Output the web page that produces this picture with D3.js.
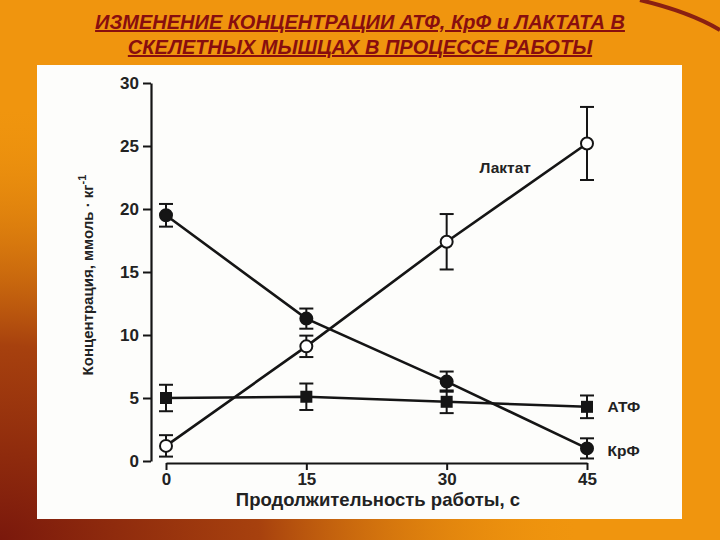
<!DOCTYPE html>
<html>
<head>
<meta charset="utf-8">
<style>
  body { margin: 0; }
  svg { display: block; }
</style>
</head>
<body>

<script src="https://cdn.jsdelivr.net/npm/d3@7"></script>
<script>

const width = 720;
const height = 540;

// time points, s
const times = [0, 15, 30, 45];

// concentrations, mmol/kg
const krf = [19.5, 11.3, 6.3, 1.0];
const krfErr = [0.9, 0.8, 0.8, 0.8];

const lactate = [1.2, 9.1, 17.4, 25.2];
const lactateErr = [0.85, 0.85, 2.2, 2.9];

const atf = [5.0, 5.1, 4.7, 4.3];
const atfErr = [1.05, 1.05, 0.9, 0.9];

const yTicks = [0, 5, 10, 15, 20, 25, 30];
const xTicks = [0, 15, 30, 45];

const titleLines = [
  'ИЗМЕНЕНИЕ КОНЦЕНТРАЦИИ АТФ, КрФ и ЛАКТАТА В',
  'СКЕЛЕТНЫХ МЫШЦАХ В ПРОЦЕССЕ РАБОТЫ'
];

const svg = d3.select('body')
              .append('svg')
              .attr('width', width)
              .attr('height', height);

// slide background
const defs = svg.append('defs');
const bg = defs.append('radialGradient')
               .attr('id', 'bgDark')
               .attr('cx', 0).attr('cy', 1).attr('r', 0.8);
bg.append('stop').attr('offset', '0%').attr('stop-color', '#7a180c').attr('stop-opacity', 1);
bg.append('stop').attr('offset', '45%').attr('stop-color', '#9a320e').attr('stop-opacity', 0.85);
bg.append('stop').attr('offset', '100%').attr('stop-color', '#e88c0c').attr('stop-opacity', 0);

svg.append('rect')
   .attr('width', width).attr('height', height)
   .attr('fill', '#f0950e');
svg.append('rect')
   .attr('width', width).attr('height', height)
   .attr('fill', 'url(#bgDark)');

// arc in the top right corner
svg.append('path')
   .attr('d', 'M640,0 Q690,12 720,30')
   .attr('fill', 'none')
   .attr('stroke', '#8a2012')
   .attr('stroke-width', 4);

// title
svg.selectAll('text.title')
   .data(titleLines)
   .enter()
   .append('text')
   .attr('class', 'title')
   .attr('x', 360)
   .attr('y', (d, i) => 29 + i * 25)
   .attr('text-anchor', 'middle')
   .attr('font-family', 'Liberation Sans, Arial, sans-serif')
   .attr('font-size', 20)
   .attr('font-weight', 'bold')
   .attr('font-style', 'italic')
   .attr('text-decoration', 'underline')
   .attr('fill', '#880e0e')
   .text(d => d);

// white panel
svg.append('rect')
   .attr('x', 37).attr('y', 65)
   .attr('width', 645).attr('height', 454)
   .attr('fill', '#fdfdfb');

const x = d3.scaleLinear().domain([0, 45]).range([166, 587]);
const y = d3.scaleLinear().domain([0, 30]).range([461, 83]);

const ink = '#151515';
const font = 'Liberation Sans, Arial, sans-serif';

// y axis
const yAxis = svg.append('g')
                 .attr('transform', 'translate(151,0)')
                 .call(d3.axisLeft(y).tickValues(yTicks).tickSize(8).tickSizeOuter(0));

// x axis
const xAxis = svg.append('g')
                 .attr('transform', 'translate(0,463)')
                 .call(d3.axisBottom(x).tickValues(xTicks).tickSize(7).tickSizeOuter(0));

[yAxis, xAxis].forEach(g => {
  g.select('.domain').attr('stroke', ink).attr('stroke-width', 2.2);
  g.selectAll('.tick line').attr('stroke', ink).attr('stroke-width', 2);
  g.selectAll('.tick text')
   .attr('fill', '#222')
   .attr('font-family', font)
   .attr('font-size', 17)
   .attr('font-weight', 'bold');
});
yAxis.selectAll('.tick text').attr('x', -12);
xAxis.selectAll('.tick text').attr('y', 10);

// axis titles
svg.append('text')
   .attr('x', 378).attr('y', 506)
   .attr('text-anchor', 'middle')
   .attr('font-family', font)
   .attr('font-size', 18.5)
   .attr('font-weight', 'bold')
   .attr('fill', '#222')
   .text('Продолжительность работы, с');

const yLab = svg.append('text')
   .attr('transform', 'translate(93,275) rotate(-90)')
   .attr('text-anchor', 'middle')
   .attr('font-family', font)
   .attr('font-size', 15)
   .attr('font-weight', 'bold')
   .attr('fill', '#222');
yLab.append('tspan').text('Концентрация, ммоль · кг');
yLab.append('tspan').attr('dy', -7).attr('font-size', 11).text('-1');

// series
const series = [
  { name: 'КрФ', values: krf, err: krfErr, shape: 'dot' },
  { name: 'Лактат', values: lactate, err: lactateErr, shape: 'ring' },
  { name: 'АТФ', values: atf, err: atfErr, shape: 'square' }
];

const line = d3.line()
               .x(d => x(d.t))
               .y(d => y(d.v));

series.forEach(s => {
  const pts = times.map((t, i) => ({ t: t, v: s.values[i], e: s.err[i] }));

  svg.append('path')
     .datum(pts)
     .attr('d', line)
     .attr('fill', 'none')
     .attr('stroke', ink)
     .attr('stroke-width', 2.6);

  const eb = svg.append('g').selectAll('g')
                .data(pts)
                .enter()
                .append('g');
  eb.append('line')
    .attr('x1', d => x(d.t)).attr('x2', d => x(d.t))
    .attr('y1', d => y(d.v + d.e)).attr('y2', d => y(d.v - d.e))
    .attr('stroke', ink).attr('stroke-width', 2);
  [1, -1].forEach(sign => {
    eb.append('line')
      .attr('x1', d => x(d.t) - 7).attr('x2', d => x(d.t) + 7)
      .attr('y1', d => y(d.v + sign * d.e)).attr('y2', d => y(d.v + sign * d.e))
      .attr('stroke', ink).attr('stroke-width', 2);
  });

  if (s.shape === 'square') {
    svg.append('g').selectAll('rect')
       .data(pts)
       .enter()
       .append('rect')
       .attr('x', d => x(d.t) - 6).attr('y', d => y(d.v) - 6)
       .attr('width', 12).attr('height', 12)
       .attr('fill', ink);
  } else {
    svg.append('g').selectAll('circle')
       .data(pts)
       .enter()
       .append('circle')
       .attr('cx', d => x(d.t)).attr('cy', d => y(d.v))
       .attr('r', 6)
       .attr('fill', s.shape === 'dot' ? ink : '#fff')
       .attr('stroke', ink)
       .attr('stroke-width', 2);
  }
});

// series labels
const labels = [
  { text: 'Лактат', t: 33.5, v: 23.3 },
  { text: 'АТФ', t: 47.2, v: 4.3 },
  { text: 'КрФ', t: 47.2, v: 0.8 }
];

svg.selectAll('text.lab')
   .data(labels)
   .enter()
   .append('text')
   .attr('class', 'lab')
   .attr('x', d => x(d.t))
   .attr('y', d => y(d.v))
   .attr('dy', '0.35em')
   .attr('font-family', font)
   .attr('font-size', 15.5)
   .attr('font-weight', 'bold')
   .attr('fill', '#222')
   .text(d => d.text);

</script>
</body>
</html>
